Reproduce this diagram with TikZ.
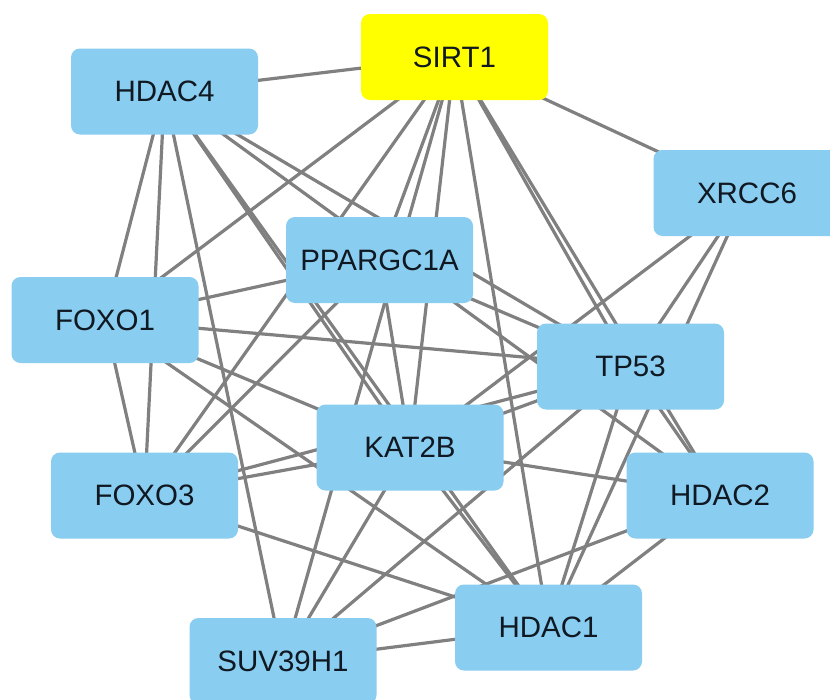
\documentclass[tikz,border=0pt]{standalone}
\usepackage{fontspec}
\setmainfont{Liberation Sans}
\usetikzlibrary{backgrounds}
\definecolor{nodeblue}{RGB}{137,205,240}
\definecolor{hubyellow}{RGB}{255,255,0}
\definecolor{edgegray}{RGB}{128,128,128}
\definecolor{labeltext}{RGB}{16,24,34}
\tikzset{
  gene/.style={rectangle, rounded corners=9pt, fill=nodeblue, draw=none,
    minimum width=187pt, minimum height=86pt, inner sep=0pt,
    text=labeltext, font=\fontsize{29.5}{34}\selectfont},
  hub/.style={gene, fill=hubyellow},
  link/.style={draw=edgegray, line width=3.2pt}
}
\begin{document}
\begin{tikzpicture}[x=1pt,y=-1pt]
\useasboundingbox (0,0) rectangle (830,699);
\node[hub]  (SIRT1) at (454.5,57)   {SIRT1};
\node[gene] (HDAC4) at (164.5,91.5) {HDAC4};
\node[gene] (XRCC6) at (747,193)    {XRCC6};
\node[gene] (PPARGC1A) at (379.5,260) {PPARGC1A};
\node[gene] (FOXO1) at (105,320)    {FOXO1};
\node[gene] (TP53)  at (630.5,366.5) {TP53};
\node[gene] (KAT2B) at (410,447.5)  {KAT2B};
\node[gene] (FOXO3) at (144.5,495.5) {FOXO3};
\node[gene] (HDAC2) at (720,495.5)  {HDAC2};
\node[gene] (HDAC1) at (548.5,627.5) {HDAC1};
\node[gene] (SUV39H1) at (283,661)  {SUV39H1};
\begin{scope}[on background layer]
\fill[white] (0,0) rectangle (830,699);
\foreach \a/\b in {
  SIRT1/HDAC4, SIRT1/XRCC6, SIRT1/FOXO1, SIRT1/FOXO3, SIRT1/PPARGC1A,
  SIRT1/KAT2B, SIRT1/SUV39H1, SIRT1/HDAC1, SIRT1/TP53, SIRT1/HDAC2,
  HDAC4/FOXO1, HDAC4/FOXO3, HDAC4/SUV39H1, HDAC4/KAT2B, HDAC4/HDAC1,
  HDAC4/HDAC2, HDAC4/TP53,
  FOXO1/FOXO3, FOXO1/PPARGC1A, FOXO1/TP53, FOXO1/KAT2B, FOXO1/HDAC1,
  FOXO3/PPARGC1A, FOXO3/TP53, FOXO3/KAT2B, FOXO3/HDAC1,
  XRCC6/KAT2B, XRCC6/TP53, XRCC6/HDAC1,
  PPARGC1A/KAT2B, PPARGC1A/TP53,
  SUV39H1/KAT2B, SUV39H1/TP53, SUV39H1/HDAC1, SUV39H1/HDAC2,
  KAT2B/HDAC1, KAT2B/HDAC2, KAT2B/TP53,
  TP53/HDAC2, TP53/HDAC1, HDAC2/HDAC1}
  \draw[link] (\a.center) -- (\b.center);
\end{scope}
\end{tikzpicture}
\end{document}
